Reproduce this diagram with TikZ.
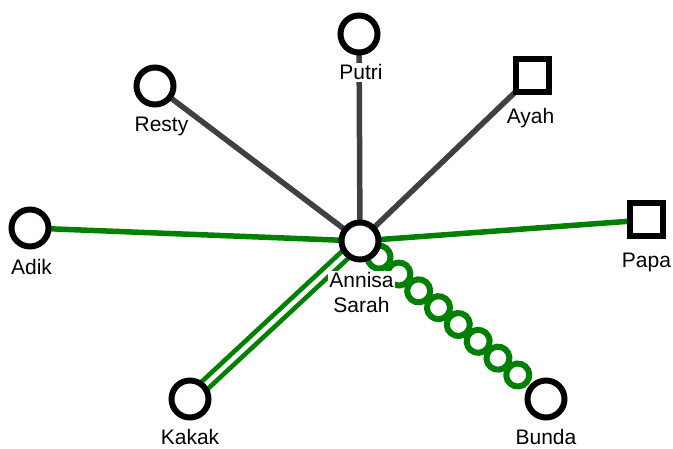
\documentclass[tikz,border=0pt]{standalone}
\usepackage{fontspec}
\setmainfont{Liberation Sans}
\usetikzlibrary{backgrounds,decorations.markings}
\definecolor{edgegrey}{RGB}{64,64,64}
\definecolor{edgegreen}{RGB}{0,128,0}
\begin{document}
\begin{tikzpicture}[x=1pt,y=-1pt,
  personnode/.style={circle,draw=black,fill=white,line width=6pt,minimum size=37pt,inner sep=0pt},
  malenode/.style={rectangle,draw=black,fill=white,line width=6pt,minimum size=33pt,inner sep=0pt},
  namelabel/.style={fill=white,inner sep=1.5pt,anchor=base,align=center,font=\fontsize{21}{25}\selectfont},
  greyedge/.style={draw=edgegrey,line width=5.5pt},
  greenedge/.style={draw=edgegreen,line width=5.5pt},
  doubleedge/.style={draw=edgegreen,line width=4.75pt,double=white,double distance=4.5pt},
  coiledge/.style={decoration={markings,mark=between positions 25pt and 210pt step 26pt with {\draw[edgegreen,line width=6pt] (0,0) circle (11.5pt);}},postaction=decorate}
]
\useasboundingbox (0,0) rectangle (673,449);
\node[personnode] (annisa) at (360,241) {};
\node[personnode] (putri) at (359,34) {};
\node[personnode] (resty) at (155,86) {};
\node[malenode] (ayah) at (532,76) {};
\node[personnode] (adik) at (30,228) {};
\node[malenode] (papa) at (646,220) {};
\node[personnode] (kakak) at (190,399) {};
\node[personnode] (bunda) at (546,399) {};

\begin{pgfonlayer}{background}
\draw[greyedge] (annisa.center) -- (putri.center);
\draw[greyedge] (annisa.center) -- (resty.center);
\draw[greyedge] (annisa.center) -- (ayah.center);
\draw[greenedge] (annisa.center) -- (adik.center);
\draw[greenedge] (annisa.center) -- (papa.center);
\draw[doubleedge] (annisa.center) -- (kakak.center);
\path[coiledge] (annisa.center) -- (bunda.center);
\end{pgfonlayer}

\node[namelabel] (lputri) at (361,80) {Putri};
\node[namelabel] (lresty) at (161.5,131.5) {Resty};
\node[namelabel] (layah) at (530.5,124) {Ayah};
\node[namelabel] (ladik) at (31.5,275) {Adik};
\node[namelabel] (lpapa) at (646.5,268) {Papa};
\node[namelabel] (lannisa) at (361.5,313) {Annisa\\Sarah};
\node[namelabel] (lkakak) at (190,445) {Kakak};
\node[namelabel] (lbunda) at (546,445) {Bunda};
\end{tikzpicture}
\end{document}
